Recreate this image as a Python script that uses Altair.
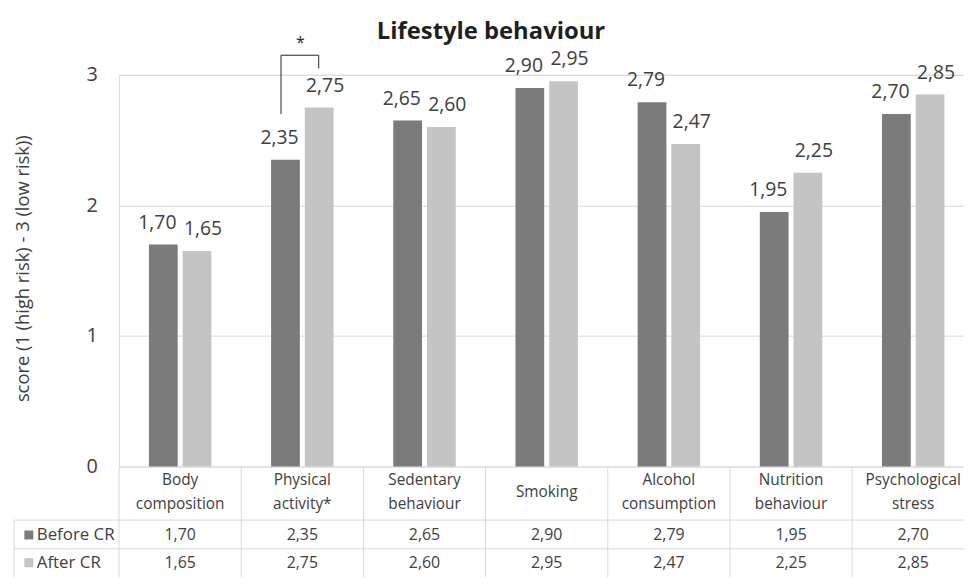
import altair as alt
import pandas as pd

categories = ["Body composition", "Physical activity*", "Sedentary behaviour", "Smoking",
              "Alcohol consumption", "Nutrition behaviour", "Psychological stress"]
series = ["Before CR", "After CR"]
before = [1.70, 2.35, 2.65, 2.90, 2.79, 1.95, 2.70]
after = [1.65, 2.75, 2.60, 2.95, 2.47, 2.25, 2.85]
y_ticks = [0, 1, 2, 3]
title_text = "Lifestyle behaviour"
y_title = "score (1 (high risk) - 3 (low risk))"
# significance annotation: category, left leg bottom, bracket top, right leg bottom, star level
sig_category = "Physical activity*"
sig_levels = [2.70, 3.15, 3.05, 3.24]

colors = ["#7b7b7b", "#c4c4c4"]
FONT = "Open Sans"
TXT = "#404040"
GRID = "#d9d9d9"
W, H = 852, 395

long = pd.DataFrame({
    "category": categories * 2,
    "series": [series[0]] * len(categories) + [series[1]] * len(categories),
    "value": before + after,
})
lab_expr = "replace(format(datum.value, '.2f'), '.', ',')"

xscale = alt.Scale(domain=categories, range=[0, 862.4], paddingInner=0, paddingOuter=0)
yscale = alt.Scale(domain=[0, 3], nice=False, zero=True)

base = alt.Chart(long).transform_calculate(label=lab_expr)

X = alt.X("category:N", scale=xscale, axis=None, sort=categories)

layers = []

# axis/grid carrier (invisible)
axis_layer = base.mark_point(opacity=0).encode(
    x=X,
    y=alt.Y("value:Q", scale=yscale, axis=alt.Axis(
        values=y_ticks, format="d", grid=True, gridColor=GRID, gridWidth=1, domain=False,
        ticks=False, labelPadding=22, labelFontSize=20, labelColor=TXT, labelFont=FONT,
        title=y_title, titleFont=FONT, titleFontSize=18.5, titleFontWeight="normal",
        titleColor=TXT, titleX=-97, titleY=195, titleAngle=-90,
        titleAlign="center", titleBaseline="middle")),
)
layers.append(axis_layer)

offsets = [-17, 17]
label_dx = [-23, 23]
for i, s in enumerate(series):
    sub = base.transform_filter(alt.datum.series == s)
    layers.append(sub.mark_bar(size=29, xOffset=offsets[i], color=colors[i]).encode(
        x=X, y=alt.Y("value:Q", scale=yscale)))
    layers.append(sub.mark_text(dx=label_dx[i], dy=-16, baseline="alphabetic", font=FONT,
                                fontSize=19.5, color=TXT).encode(
        x=X, y=alt.Y("value:Q", scale=yscale), text="label:N"))
    row_y = H + 69 + 28 * i
    layers.append(sub.mark_text(baseline="middle", font=FONT, fontSize=16, color=TXT).encode(
        x=X, y=alt.value(row_y), text="label:N"))
    leg = alt.Chart(pd.DataFrame({"series": [s]}))
    layers.append(leg.mark_square(size=81, color=colors[i], opacity=1).encode(
        x=alt.value(-91), y=alt.value(row_y)))
    layers.append(leg.mark_text(align="left", baseline="middle", font=FONT, fontSize=17,
                                color=TXT).encode(
        x=alt.value(-83), y=alt.value(row_y), text="series:N"))

cats = alt.Chart(pd.DataFrame({"category": categories}))
# table header text: two-word labels on two lines, one-word labels centred
two = cats.transform_filter("indexof(datum.category, ' ') >= 0").transform_calculate(
    l1="split(datum.category, ' ')[0]", l2="split(datum.category, ' ')[1]")
hdr = dict(baseline="middle", font=FONT, fontSize=15.5, color=TXT)
layers.append(two.mark_text(**hdr).encode(x=X, y=alt.value(H + 14), text="l1:N"))
layers.append(two.mark_text(**hdr).encode(x=X, y=alt.value(H + 38), text="l2:N"))
one = cats.transform_filter("indexof(datum.category, ' ') < 0")
layers.append(one.mark_text(**hdr).encode(x=X, y=alt.value(H + 26), text="category:N"))
# table vertical lines
layers.append(cats.mark_rule(color=GRID, strokeWidth=1).encode(
    x=alt.X("category:N", scale=xscale, axis=None, sort=categories, bandPosition=0),
    y=alt.value(H), y2=alt.value(H + 112)))
# table horizontal lines and left border
hl = alt.Chart(pd.DataFrame({"k": [0]}))
for yy in [H + 54, H + 83]:
    layers.append(hl.mark_rule(color=GRID, strokeWidth=1).encode(
        x=alt.value(-106), x2=alt.value(W), y=alt.value(yy)))
layers.append(hl.mark_rule(color=GRID, strokeWidth=1).encode(
    x=alt.value(-106), y=alt.value(H + 54), y2=alt.value(H + 112)))

# significance bracket
sig = alt.Chart(pd.DataFrame({"category": [sig_category], "a": [sig_levels[0]],
                              "b": [sig_levels[1]], "c": [sig_levels[2]], "d": [sig_levels[3]]}))
layers.append(sig.mark_rule(xOffset=-21.5, color="#262626", strokeWidth=1).encode(
    x=X, y=alt.Y("a:Q", scale=yscale), y2="b:Q"))
layers.append(sig.mark_rule(xOffset=-21.5, x2Offset=16.5, color="#262626", strokeWidth=1).encode(
    x=X, x2=alt.X2("category"), y=alt.Y("b:Q", scale=yscale)))
layers.append(sig.mark_rule(xOffset=16.5, color="#262626", strokeWidth=1).encode(
    x=X, y=alt.Y("c:Q", scale=yscale), y2="b:Q"))
layers.append(sig.mark_text(text="*", dx=-2, baseline="middle", font=FONT, fontSize=16,
                            color="#262626").encode(
    x=X, y=alt.Y("d:Q", scale=yscale)))

# title
layers.append(hl.mark_text(text=title_text, font=FONT, fontSize=24, fontWeight="bold",
                           color="#1f1f1f", baseline="alphabetic").encode(
    x=alt.value(375), y=alt.value(-36)))

chart = alt.layer(*layers).properties(
    width=W, height=H,
    autosize=alt.AutoSizeParams(type="none"),
    padding={"left": 112, "top": 65, "right": 0, "bottom": 110},
).configure_view(stroke=None).configure(background="white")

chart.save("out.html", embed_options={"renderer": "svg", "actions": False})
